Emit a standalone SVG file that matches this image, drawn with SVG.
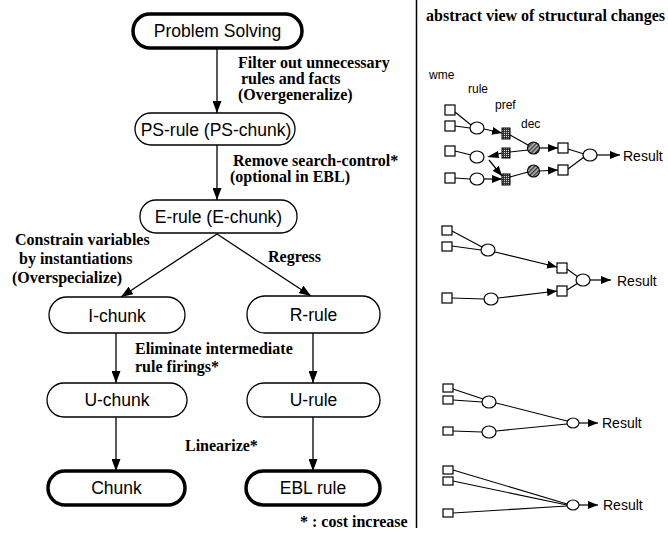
<svg xmlns="http://www.w3.org/2000/svg" width="668" height="538" viewBox="0 0 668 538">
<style>
.box{fill:#fff;stroke:#000;stroke-width:1.3}
.thick{fill:#fff;stroke:#000;stroke-width:3.5}
.lbl{font-family:"Liberation Sans",Arial,sans-serif;font-size:17.5px;fill:#000;text-anchor:middle}
.ser{font-family:"Liberation Serif","Times New Roman",serif;font-size:16px;font-weight:bold;fill:#000}
.sm{font-family:"Liberation Sans",Arial,sans-serif;font-size:12px;fill:#000}
.res{font-family:"Liberation Sans",Arial,sans-serif;font-size:14px;fill:#000}
.ln{stroke:#000;stroke-width:1.3;fill:none}
.fa{stroke:#000;stroke-width:1.3;fill:none;marker-end:url(#ah)}
.na{stroke:#000;stroke-width:1.2;fill:none;marker-end:url(#sa)}
.nl{stroke:#000;stroke-width:1.1;fill:none}
.sq{fill:#fff;stroke:#000;stroke-width:1.2}
.ci{fill:#fff;stroke:#000;stroke-width:1.2}
.pf{fill:url(#chk);stroke:#000;stroke-width:1}
.dc{fill:url(#hat);stroke:#000;stroke-width:1.1}
</style>
<defs>
<marker id="ah" viewBox="0 0 12 9" refX="12" refY="4.5" markerWidth="12" markerHeight="9" orient="auto" markerUnits="userSpaceOnUse"><path d="M0,0 L12,4.5 L0,9 z" fill="#000"/></marker>
<marker id="sa" viewBox="0 0 10 8" refX="10" refY="4" markerWidth="10" markerHeight="8" orient="auto" markerUnits="userSpaceOnUse"><path d="M0,0 L10,4 L0,8 z" fill="#000"/></marker>
<pattern id="chk" width="2" height="2" patternUnits="userSpaceOnUse"><rect width="2" height="2" fill="#333"/><rect width="1" height="1" fill="#ddd"/></pattern>
<pattern id="hat" width="3" height="3" patternUnits="userSpaceOnUse" patternTransform="rotate(45)"><rect width="3" height="3" fill="#bbb"/><rect width="1.4" height="3" fill="#333"/></pattern>
</defs>

<line x1="416.5" y1="0" x2="416.5" y2="528" stroke="#000" stroke-width="1.5"/>

<g id="connectors">
<line class="fa" x1="217" y1="48" x2="217" y2="113"/>
<line class="fa" x1="217" y1="145" x2="217" y2="200"/>
<line class="fa" x1="217" y1="234" x2="121" y2="297"/>
<line class="fa" x1="217" y1="234" x2="311" y2="296"/>
<line class="fa" x1="116" y1="333" x2="116" y2="383"/>
<line class="fa" x1="313" y1="333" x2="313" y2="383"/>
<line class="fa" x1="116" y1="417" x2="116" y2="471"/>
<line class="fa" x1="313" y1="417" x2="313" y2="471"/>
</g>

<g id="edge-labels">
<text class="ser" x="238" y="68">Filter out unnecessary</text>
<text class="ser" x="241" y="84">rules and facts</text>
<text class="ser" x="238" y="100">(Overgeneralize)</text>
<text class="ser" x="233" y="166">Remove search-control*</text>
<text class="ser" x="230" y="182">(optional in EBL)</text>
<text class="ser" x="15" y="245">Constrain variables</text>
<text class="ser" x="19" y="264">by instantiations</text>
<text class="ser" x="12" y="283">(Overspecialize)</text>
<text class="ser" x="268" y="262">Regress</text>
<text class="ser" x="135" y="354">Eliminate intermediate</text>
<text class="ser" x="135" y="372">rule firings*</text>
<text class="ser" x="185" y="451">Linearize*</text>
<text class="ser" x="300" y="527">* : cost increase</text>
<text class="ser" x="426" y="21">abstract view of structural changes</text>
</g>

<g id="problem-solving"><rect class="thick" x="133" y="14" width="169" height="34" rx="17"/><text class="lbl" x="217.5" y="37">Problem Solving</text></g>
<g id="ps-rule"><rect class="box" x="135" y="113" width="160" height="32" rx="16"/><text class="lbl" x="216" y="135.5">PS-rule (PS-chunk)</text></g>
<g id="e-rule"><rect class="box" x="140" y="200" width="157" height="33" rx="16"/><text class="lbl" x="218.5" y="223">E-rule (E-chunk)</text></g>
<g id="i-chunk"><rect class="box" x="49" y="297" width="136" height="36" rx="18"/><text class="lbl" x="117" y="321.5">I-chunk</text></g>
<g id="r-rule"><rect class="box" x="247" y="296" width="133" height="37" rx="18"/><text class="lbl" x="313.5" y="321">R-rule</text></g>
<g id="u-chunk"><rect class="box" x="47" y="383" width="140" height="34" rx="17"/><text class="lbl" x="117" y="406">U-chunk</text></g>
<g id="u-rule"><rect class="box" x="247" y="383" width="133" height="34" rx="17"/><text class="lbl" x="313.5" y="406">U-rule</text></g>
<g id="chunk"><rect class="thick" x="48" y="471" width="137" height="34" rx="17"/><text class="lbl" x="116.5" y="494">Chunk</text></g>
<g id="ebl-rule"><rect class="thick" x="246" y="471" width="134" height="34" rx="17"/><text class="lbl" x="313" y="494">EBL rule</text></g>

<g id="network-1">
<text class="sm" x="429" y="79">wme</text>
<text class="sm" x="468" y="93">rule</text>
<text class="sm" x="495" y="109">pref</text>
<text class="sm" x="521" y="128">dec</text>
<line class="nl" x1="455" y1="112" x2="471" y2="125"/>
<line class="nl" x1="455" y1="126" x2="470" y2="128"/>
<line class="nl" x1="455" y1="151" x2="471" y2="155"/>
<line class="nl" x1="455" y1="178" x2="470" y2="179"/>
<line class="na" x1="484" y1="129" x2="502" y2="133"/>
<line class="nl" x1="502" y1="153" x2="496" y2="154.5"/>
<path d="M487,157 L498,151 L499,158 z" fill="#000"/>
<line class="na" x1="489" y1="160" x2="502" y2="176"/>
<line class="na" x1="484" y1="179" x2="502" y2="179"/>
<line class="nl" x1="510" y1="135" x2="528" y2="145"/>
<line class="nl" x1="510" y1="152" x2="528" y2="150"/>
<line class="nl" x1="510" y1="177" x2="528" y2="172"/>
<line class="na" x1="539.5" y1="148" x2="558" y2="148"/>
<line class="na" x1="539.5" y1="171" x2="558" y2="170"/>
<line class="nl" x1="568" y1="149" x2="584" y2="154"/>
<line class="nl" x1="568" y1="169" x2="584" y2="157"/>
<line class="na" x1="597" y1="155" x2="620" y2="155"/>
<rect class="sq" x="445" y="105" width="10" height="10"/>
<rect class="sq" x="445" y="121" width="10" height="10"/>
<rect class="sq" x="445" y="146" width="10" height="10"/>
<rect class="sq" x="445" y="173" width="10" height="10"/>
<ellipse class="ci" cx="477" cy="128" rx="7" ry="6"/>
<ellipse class="ci" cx="477" cy="157" rx="7" ry="6"/>
<ellipse class="ci" cx="477" cy="179" rx="7" ry="6"/>
<rect class="pf" x="502" y="128" width="8" height="11"/>
<rect class="pf" x="502" y="148" width="8" height="10"/>
<rect class="pf" x="502" y="174" width="8" height="11"/>
<circle class="dc" cx="533.5" cy="148" r="6"/>
<circle class="dc" cx="533.5" cy="171" r="6"/>
<rect class="sq" x="558" y="143" width="10" height="10"/>
<rect class="sq" x="558" y="165" width="10" height="10"/>
<ellipse class="ci" cx="590" cy="155" rx="7" ry="6"/>
<text class="res" x="623" y="160.5">Result</text>
</g>

<g id="network-2">
<line class="nl" x1="452" y1="231" x2="482" y2="247"/>
<line class="nl" x1="452" y1="246" x2="481" y2="250"/>
<line class="nl" x1="452" y1="298" x2="484" y2="299"/>
<line class="na" x1="495" y1="252" x2="557" y2="267"/>
<line class="na" x1="498" y1="298" x2="557" y2="291"/>
<line class="nl" x1="567" y1="269" x2="578" y2="277"/>
<line class="nl" x1="567" y1="290" x2="578" y2="283"/>
<line class="na" x1="590" y1="280" x2="611" y2="280"/>
<rect class="sq" x="442" y="226" width="10" height="9"/>
<rect class="sq" x="442" y="242" width="10" height="9"/>
<rect class="sq" x="442" y="293" width="10" height="10"/>
<ellipse class="ci" cx="488" cy="250" rx="7" ry="6"/>
<ellipse class="ci" cx="491" cy="299" rx="7" ry="6"/>
<rect class="sq" x="557" y="263" width="10" height="10"/>
<rect class="sq" x="557" y="286" width="10" height="10"/>
<ellipse class="ci" cx="583" cy="280" rx="7" ry="6"/>
<text class="res" x="617" y="285.5">Result</text>
</g>

<g id="network-3">
<line class="nl" x1="453" y1="389" x2="483" y2="399"/>
<line class="nl" x1="453" y1="400" x2="482" y2="402"/>
<line class="nl" x1="453" y1="431" x2="482" y2="432"/>
<line class="nl" x1="496" y1="403" x2="567" y2="421"/>
<line class="nl" x1="496" y1="431" x2="567" y2="424"/>
<line class="na" x1="579" y1="423" x2="598" y2="423"/>
<rect class="sq" x="443" y="384" width="10" height="8"/>
<rect class="sq" x="443" y="396" width="10" height="8"/>
<rect class="sq" x="443" y="427" width="10" height="8"/>
<ellipse class="ci" cx="489" cy="402" rx="7" ry="6"/>
<ellipse class="ci" cx="489" cy="432" rx="7" ry="6"/>
<ellipse class="ci" cx="573" cy="423" rx="6" ry="5"/>
<text class="res" x="602" y="428">Result</text>
</g>

<g id="network-4">
<line class="nl" x1="453" y1="470" x2="567" y2="504"/>
<line class="nl" x1="453" y1="481" x2="567" y2="505"/>
<line class="nl" x1="453" y1="513" x2="567" y2="506"/>
<line class="na" x1="579" y1="505" x2="598" y2="505"/>
<rect class="sq" x="443" y="466" width="10" height="8"/>
<rect class="sq" x="443" y="477" width="10" height="8"/>
<rect class="sq" x="443" y="509" width="10" height="8"/>
<ellipse class="ci" cx="573" cy="505" rx="6" ry="5"/>
<text class="res" x="603" y="510">Result</text>
</g>
</svg>
